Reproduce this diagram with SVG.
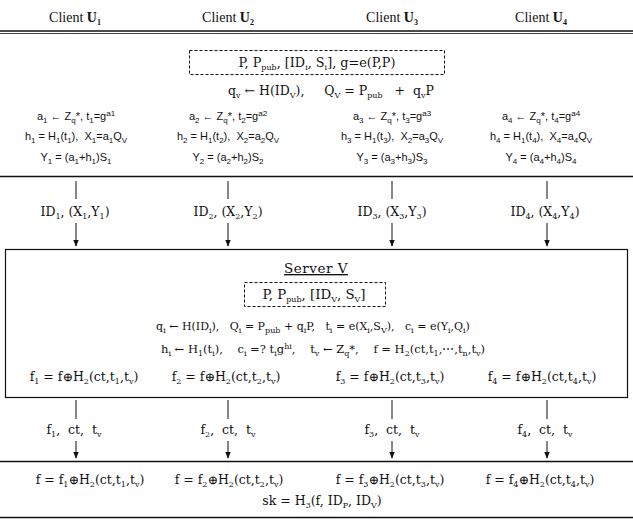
<svg xmlns="http://www.w3.org/2000/svg" width="633" height="527" viewBox="0 0 633 527">
<style>
text{white-space:pre}
.bg{fill:#fff}
.hd{font-family:"Liberation Serif",serif;font-size:14px;fill:#111;text-anchor:middle}
.sr{font-family:"DejaVu Serif","Liberation Serif",serif;font-size:12.5px;fill:#111;text-anchor:middle}
.sn{font-family:"Liberation Sans",Arial,sans-serif;font-size:11px;fill:#111;text-anchor:middle}
.b{font-size:8px;baseline-shift:-3px}
.p{font-size:8px;baseline-shift:4px}
.ln{stroke:#111;fill:none}
.dash{stroke:#111;fill:none;stroke-width:1;stroke-dasharray:3,2}
.ar{stroke:#111;stroke-width:1;fill:none}
</style>
<defs>
<marker id="ah" viewBox="0 0 10 10" refX="9" refY="5" markerWidth="7" markerHeight="8" orient="auto" markerUnits="userSpaceOnUse">
<path d="M0,1 L10,5 L0,9 z" fill="#111"/>
</marker>
</defs>
<rect class="bg" x="0" y="0" width="633" height="527"/>

<g id="header">
<text class="hd" x="75" y="22">Client <tspan font-weight="bold">U<tspan class="b">1</tspan></tspan></text>
<text class="hd" x="228" y="22">Client <tspan font-weight="bold">U<tspan class="b">2</tspan></tspan></text>
<text class="hd" x="392" y="22">Client <tspan font-weight="bold">U<tspan class="b">3</tspan></tspan></text>
<text class="hd" x="541" y="22">Client <tspan font-weight="bold">U<tspan class="b">4</tspan></tspan></text>
<line class="ln" x1="0" y1="31" x2="633" y2="31" stroke-width="1.5"/>
<line class="ln" x1="0" y1="33.5" x2="633" y2="33.5" stroke-width="0.8"/>
</g>

<g id="client-setup">
<rect class="dash" x="189.5" y="50.5" width="255" height="24"/>
<text class="sr" x="317" y="67" style="font-size:12.8px">P, P<tspan class="b">pub</tspan>, [ID<tspan class="b">i</tspan>, S<tspan class="b">i</tspan>], g=e(P,P)</text>
<text class="sr" x="331" y="95">q<tspan class="b">v</tspan> ← H(ID<tspan class="b">V</tspan>),     Q<tspan class="b">V</tspan> = P<tspan class="b">pub</tspan>   +  q<tspan class="b">v</tspan>P</text>
</g>

<g id="client-1">
<text class="sn" x="76" y="120">a<tspan class="b">1</tspan> ← Z<tspan class="b">q</tspan>*, t<tspan class="b">1</tspan>=g<tspan class="p">a1</tspan></text>
<text class="sn" x="76" y="140">h<tspan class="b">1</tspan> = H<tspan class="b">1</tspan>(t<tspan class="b">1</tspan>),  X<tspan class="b">1</tspan>=a<tspan class="b">1</tspan>Q<tspan class="b">V</tspan></text>
<text class="sn" x="76" y="161">Y<tspan class="b">1</tspan> = (a<tspan class="b">1</tspan>+h<tspan class="b">1</tspan>)S<tspan class="b">1</tspan></text>
</g>
<g id="client-2">
<text class="sn" x="228" y="120">a<tspan class="b">2</tspan> ← Z<tspan class="b">q</tspan>*, t<tspan class="b">2</tspan>=g<tspan class="p">a2</tspan></text>
<text class="sn" x="228" y="140">h<tspan class="b">2</tspan> = H<tspan class="b">1</tspan>(t<tspan class="b">2</tspan>),  X<tspan class="b">2</tspan>=a<tspan class="b">2</tspan>Q<tspan class="b">V</tspan></text>
<text class="sn" x="228" y="161">Y<tspan class="b">2</tspan> = (a<tspan class="b">2</tspan>+h<tspan class="b">2</tspan>)S<tspan class="b">2</tspan></text>
</g>
<g id="client-3">
<text class="sn" x="392" y="120">a<tspan class="b">3</tspan> ← Z<tspan class="b">q</tspan>*, t<tspan class="b">3</tspan>=g<tspan class="p">a3</tspan></text>
<text class="sn" x="392" y="140">h<tspan class="b">3</tspan> = H<tspan class="b">1</tspan>(t<tspan class="b">3</tspan>),  X<tspan class="b">2</tspan>=a<tspan class="b">3</tspan>Q<tspan class="b">V</tspan></text>
<text class="sn" x="392" y="161">Y<tspan class="b">3</tspan> = (a<tspan class="b">3</tspan>+h<tspan class="b">3</tspan>)S<tspan class="b">3</tspan></text>
</g>
<g id="client-4">
<text class="sn" x="541" y="120">a<tspan class="b">4</tspan> ← Z<tspan class="b">q</tspan>*, t<tspan class="b">4</tspan>=g<tspan class="p">a4</tspan></text>
<text class="sn" x="541" y="140">h<tspan class="b">4</tspan> = H<tspan class="b">1</tspan>(t<tspan class="b">4</tspan>),  X<tspan class="b">4</tspan>=a<tspan class="b">4</tspan>Q<tspan class="b">V</tspan></text>
<text class="sn" x="541" y="161">Y<tspan class="b">4</tspan> = (a<tspan class="b">4</tspan>+h<tspan class="b">4</tspan>)S<tspan class="b">4</tspan></text>
</g>

<line class="ln" x1="0" y1="176.5" x2="633" y2="176.5" stroke-width="1.5"/>

<g id="connectors">
<line class="ar" x1="76" y1="181" x2="76" y2="199"/>
<line class="ar" x1="76" y1="223" x2="76" y2="246" marker-end="url(#ah)"/>
<line class="ar" x1="228" y1="181" x2="228" y2="199"/>
<line class="ar" x1="228" y1="223" x2="228" y2="246" marker-end="url(#ah)"/>
<line class="ar" x1="392" y1="181" x2="392" y2="199"/>
<line class="ar" x1="392" y1="223" x2="392" y2="246" marker-end="url(#ah)"/>
<line class="ar" x1="547" y1="181" x2="547" y2="199"/>
<line class="ar" x1="547" y1="223" x2="547" y2="246" marker-end="url(#ah)"/>

<line class="ar" x1="76" y1="400" x2="76" y2="419"/>
<line class="ar" x1="76" y1="441" x2="76" y2="458" marker-end="url(#ah)"/>
<line class="ar" x1="228" y1="400" x2="228" y2="419"/>
<line class="ar" x1="228" y1="441" x2="228" y2="458" marker-end="url(#ah)"/>
<line class="ar" x1="392" y1="400" x2="392" y2="419"/>
<line class="ar" x1="392" y1="441" x2="392" y2="458" marker-end="url(#ah)"/>
<line class="ar" x1="547" y1="400" x2="547" y2="419"/>
<line class="ar" x1="547" y1="441" x2="547" y2="458" marker-end="url(#ah)"/>

<text class="sr" x="75" y="216">ID<tspan class="b">1</tspan>, (X<tspan class="b">1</tspan>,Y<tspan class="b">1</tspan>)</text>
<text class="sr" x="228" y="216">ID<tspan class="b">2</tspan>, (X<tspan class="b">2</tspan>,Y<tspan class="b">2</tspan>)</text>
<text class="sr" x="392" y="216">ID<tspan class="b">3</tspan>, (X<tspan class="b">3</tspan>,Y<tspan class="b">3</tspan>)</text>
<text class="sr" x="545" y="216">ID<tspan class="b">4</tspan>, (X<tspan class="b">4</tspan>,Y<tspan class="b">4</tspan>)</text>

<text class="sr" x="74" y="434">f<tspan class="b">1</tspan>,  ct,  t<tspan class="b">v</tspan></text>
<text class="sr" x="228" y="434">f<tspan class="b">2</tspan>,  ct,  t<tspan class="b">v</tspan></text>
<text class="sr" x="392" y="434">f<tspan class="b">3</tspan>,  ct,  t<tspan class="b">v</tspan></text>
<text class="sr" x="545" y="434">f<tspan class="b">4</tspan>,  ct,  t<tspan class="b">v</tspan></text>
</g>

<g id="server">
<rect class="ln" x="5.5" y="249.5" width="622" height="148" stroke-width="1.2"/>
<text class="sr" x="316" y="273" style="font-size:13.5px" letter-spacing="0.5" text-decoration="underline">Server V</text>
<rect class="dash" x="244.5" y="282.5" width="141" height="24"/>
<text class="sr" x="314" y="299" style="font-size:13.3px">P, P<tspan class="b">pub</tspan>, [ID<tspan class="b">V</tspan>, S<tspan class="b">V</tspan>]</text>
<text class="sr" x="313" y="330" style="font-size:11px">q<tspan class="b">i</tspan> ← H(ID<tspan class="b">i</tspan>),   Q<tspan class="b">i</tspan> = P<tspan class="b">pub</tspan> + q<tspan class="b">i</tspan>P,   t<tspan class="b">i</tspan> = e(X<tspan class="b">i</tspan>,S<tspan class="b">V</tspan>),   c<tspan class="b">i</tspan> = e(Y<tspan class="b">i</tspan>,Q<tspan class="b">i</tspan>)</text>
<text class="sr" x="323" y="353" style="font-size:11.5px">h<tspan class="b">i</tspan> ← H<tspan class="b">1</tspan>(t<tspan class="b">i</tspan>),    c<tspan class="b">i</tspan> =? t<tspan class="b">i</tspan>g<tspan class="p">hi</tspan>,    t<tspan class="b">v</tspan> ← Z<tspan class="b">q</tspan>*,    f = H<tspan class="b">2</tspan>(ct,t<tspan class="b">1</tspan>,⋯,t<tspan class="b">n</tspan>,t<tspan class="b">v</tspan>)</text>
<text class="sr" x="84" y="381">f<tspan class="b">1</tspan> = f⊕H<tspan class="b">2</tspan>(ct,t<tspan class="b">1</tspan>,t<tspan class="b">v</tspan>)</text>
<text class="sr" x="226" y="381">f<tspan class="b">2</tspan> = f⊕H<tspan class="b">2</tspan>(ct,t<tspan class="b">2</tspan>,t<tspan class="b">v</tspan>)</text>
<text class="sr" x="390" y="381">f<tspan class="b">3</tspan> = f⊕H<tspan class="b">2</tspan>(ct,t<tspan class="b">3</tspan>,t<tspan class="b">v</tspan>)</text>
<text class="sr" x="542" y="381">f<tspan class="b">4</tspan> = f⊕H<tspan class="b">2</tspan>(ct,t<tspan class="b">4</tspan>,t<tspan class="b">v</tspan>)</text>
</g>

<line class="ln" x1="0" y1="461.5" x2="633" y2="461.5" stroke-width="1.3"/>

<g id="final">
<text class="sr" x="90" y="484">f = f<tspan class="b">1</tspan>⊕H<tspan class="b">2</tspan>(ct,t<tspan class="b">1</tspan>,t<tspan class="b">v</tspan>)</text>
<text class="sr" x="229" y="484">f = f<tspan class="b">2</tspan>⊕H<tspan class="b">2</tspan>(ct,t<tspan class="b">2</tspan>,t<tspan class="b">v</tspan>)</text>
<text class="sr" x="390" y="484">f = f<tspan class="b">3</tspan>⊕H<tspan class="b">2</tspan>(ct,t<tspan class="b">3</tspan>,t<tspan class="b">v</tspan>)</text>
<text class="sr" x="540" y="484">f = f<tspan class="b">4</tspan>⊕H<tspan class="b">2</tspan>(ct,t<tspan class="b">4</tspan>,t<tspan class="b">v</tspan>)</text>
<text class="sr" x="322" y="505">sk = H<tspan class="b">3</tspan>(f, ID<tspan class="b">P</tspan>, ID<tspan class="b">V</tspan>)</text>
</g>
<line class="ln" x1="0" y1="517.5" x2="633" y2="517.5" stroke-width="1.5"/>
</svg>
